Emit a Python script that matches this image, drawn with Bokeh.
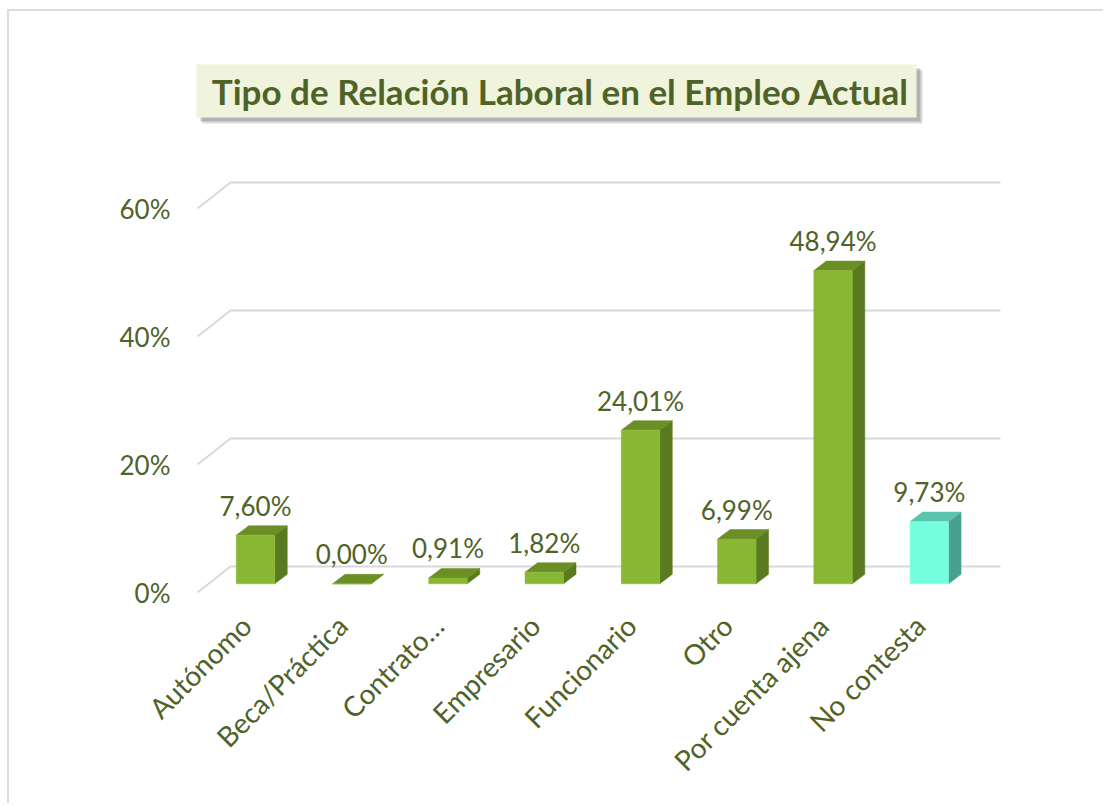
import math
from bokeh.plotting import figure
from bokeh.models import Range1d, FixedTicker, ColumnDataSource
from bokeh.embed import file_html
from bokeh.resources import INLINE
from bokeh.core.properties import value

# ---------------- data ----------------
categories = ["Autónomo", "Beca/Práctica", "Contrato…", "Empresario",
              "Funcionario", "Otro", "Por cuenta ajena", "No contesta"]
percentages = [7.60, 0.00, 0.91, 1.82, 24.01, 6.99, 48.94, 9.73]
value_labels = ["7,60%", "0,00%", "0,91%", "1,82%", "24,01%", "6,99%", "48,94%", "9,73%"]
y_ticks = [0, 20, 40, 60]
y_tick_labels = ["0%", "20%", "40%", "60%"]
title_text = "Tipo de Relación Laboral en el Empleo Actual"

# ---------------- style ----------------
TEXT = "#4F6228"
GRID = "#D9D9D9"
FONT = "Lato"
front_colors = ["#8AB733"] * 7 + ["#76FFDF"]
side_colors = ["#5A7A1F"] * 7 + ["#46A190"]
top_colors = ["#6B8E25"] * 7 + ["#5CC4AD"]

MARGIN_L, MARGIN_T, BORDER = 7, 9, 2
W, H = 1096, 794
PAGE_X0, PAGE_Y0 = MARGIN_L + BORDER, MARGIN_T + BORDER   # page offset of the canvas
SP = 96.26                      # px per category
CAT0_PX = 255                   # page x of first category
PPP = 6.4                       # px per percent
ZERO_PY = 592                   # page y of 0% (front plane)

def ux(px):  # horizontal px distance -> x units
    return px / SP

def uy(px):  # vertical px distance -> y units
    return px / PPP

def to_x(page_x):
    return (page_x - CAT0_PX) / SP

def to_y(page_y):
    return (ZERO_PY - page_y) / PPP

FRAME_L, FRAME_B = 190, 600
p = figure(width=W, height=H, output_backend="svg", toolbar_location=None,
           x_range=Range1d(to_x(FRAME_L), to_x(PAGE_X0 + W)),
           y_range=Range1d(to_y(FRAME_B), to_y(PAGE_Y0)),
           min_border_left=FRAME_L - PAGE_X0, min_border_right=0,
           min_border_top=0, min_border_bottom=PAGE_Y0 + H - FRAME_B)
p.styles = {"border-left": "2px solid #DDDDDD", "border-top": "2px solid #DDDDDD",
            "margin-left": f"{MARGIN_L}px", "margin-top": f"{MARGIN_T}px"}
p.xgrid.visible = False
p.ygrid.visible = False
p.outline_line_color = None
p.background_fill_color = "white"
p.border_fill_color = "white"

# --------------- 3D gridlines ---------------
back_dx, back_dy = ux(33), uy(26)
gx0 = to_x(197)
gxs, gys = [], []
for t in y_ticks:
    gxs.append([gx0, gx0 + back_dx, to_x(1000)])
    gys.append([t, t + back_dy, t + back_dy])
p.multi_line(gxs, gys, line_color=GRID, line_width=2)

# --------------- 3D bars ---------------
hw = ux(19.25)
ddx, ddy = ux(12.5), uy(9.5)
base = uy(8.7)
fx, fy, sx, sy, tx, ty = [], [], [], [], [], []
for i, v in enumerate(percentages):
    x0, x1 = i - hw, i + hw
    y0, y1 = base, base + v
    fx.append([x0, x1, x1, x0]); fy.append([y0, y0, y1, y1])
    sx.append([x1, x1 + ddx, x1 + ddx, x1]); sy.append([y0, y0 + ddy, y1 + ddy, y1])
    tx.append([x0, x1, x1 + ddx, x0 + ddx]); ty.append([y1, y1, y1 + ddy, y1 + ddy])
p.patches(sx, sy, fill_color=side_colors, line_color=side_colors, line_width=0.5)
p.patches(tx, ty, fill_color=top_colors, line_color=top_colors, line_width=0.5)
p.patches(fx, fy, fill_color=front_colors, line_color=front_colors, line_width=0.5)

# --------------- value labels ---------------
lab_src = ColumnDataSource(dict(
    x=list(range(len(percentages))),
    y=[base + v + ddy + uy(20) for v in percentages],
    t=value_labels))
p.text(x="x", y="y", text="t", source=lab_src, text_align="center",
       text_baseline="alphabetic", text_color=TEXT,
       text_font=value(FONT), text_font_size="26px")

# --------------- title box ---------------
tl, tr, tt, tb = to_x(196), to_x(916), to_y(64), to_y(117)
p.quad(left=[tl + ux(6)], right=[tr + ux(6)], top=[tt - uy(6)], bottom=[tb - uy(6)],
       fill_color="#9A9A9A", fill_alpha=0.35, line_color=None)
p.quad(left=[tl + ux(4)], right=[tr + ux(4)], top=[tt - uy(4)], bottom=[tb - uy(4)],
       fill_color="#808080", fill_alpha=0.45, line_color=None)
p.quad(left=[tl], right=[tr], top=[tt], bottom=[tb],
       fill_color="#F0F4DC", line_color=None)
p.text(x=[(tl + tr) / 2 + ux(4)], y=[(tt + tb) / 2], text=[title_text],
       text_align="center", text_baseline="middle", text_color=TEXT,
       text_font=value(FONT), text_font_style="bold", text_font_size="35px")

# --------------- axes ---------------
p.yaxis.ticker = FixedTicker(ticks=y_ticks)
p.yaxis.major_label_overrides = dict(zip(y_ticks, y_tick_labels))
p.yaxis.axis_line_color = None
p.yaxis.major_tick_line_color = None
p.yaxis.minor_tick_line_color = None
p.yaxis.major_tick_out = 0
p.yaxis.major_label_standoff = 20
p.yaxis.major_label_text_font = FONT
p.yaxis.major_label_text_font_size = "26px"
p.yaxis.major_label_text_color = TEXT

# category labels are anchored slightly left of each bar centre, as in the original
label_shift = 0.1
x_label_pos = [round(i - label_shift, 2) for i in range(len(categories))]
p.xaxis.ticker = FixedTicker(ticks=x_label_pos)
p.xaxis.major_label_overrides = {pos: c for pos, c in zip(x_label_pos, categories)}
p.xaxis.major_label_orientation = math.pi / 4
p.xaxis.axis_line_color = None
p.xaxis.major_tick_line_color = None
p.xaxis.minor_tick_line_color = None
p.xaxis.major_tick_out = 0
p.xaxis.major_label_standoff = 20
p.xaxis.major_label_text_font = FONT
p.xaxis.major_label_text_font_size = "28px"
p.xaxis.major_label_text_color = TEXT

open("out.html", "w").write(file_html(p, INLINE))
